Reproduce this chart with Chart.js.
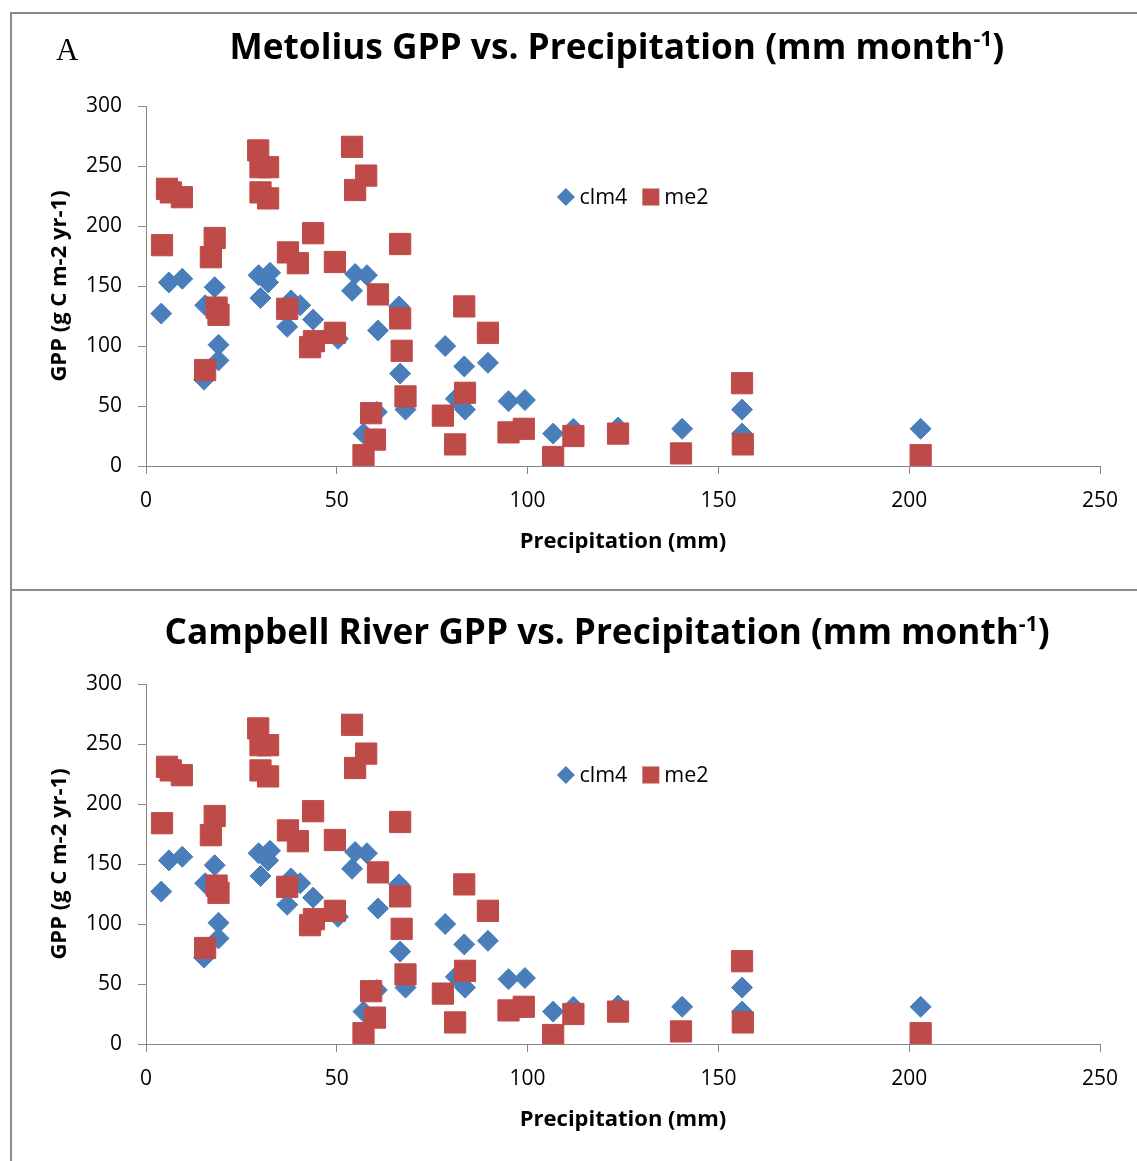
<!DOCTYPE html>
<html lang="en">
<head>
<meta charset="UTF-8">
<title>GPP vs. Precipitation</title>
<script src="https://cdn.jsdelivr.net/npm/chart.js"></script>
<style>
    body {
        margin: 0;
        background: #fff;
    }

    #page {
        position: relative;
        width: 1137px;
        height: 1161px;
        overflow: hidden;
        background: #fff;
    }

    .frame {
        position: absolute;
        left: 10px;
        width: 1200px;
        border-left: 2px solid #8c8c8c;
        border-top: 2px solid #8c8c8c;
    }

    canvas {
        position: absolute;
        left: 0;
    }

    .title {
        position: absolute;
        white-space: nowrap;
        font-family: "Open Sans", sans-serif;
        font-weight: bold;
        font-size: 36px;
        line-height: 1;
        color: #000;
        transform-origin: center center;
    }

    .title sup {
        font-size: 0.6em;
        vertical-align: 0.6em;
    }

    .letter {
        position: absolute;
        left: 56px;
        top: 34px;
        font-family: "Liberation Serif", serif;
        font-size: 31px;
        line-height: 1;
    }
</style>
</head>
<body>
<div id="page">
    <div class="frame" style="top:12px;height:578px;"></div>
    <div class="frame" style="top:589px;height:600px;"></div>

    <canvas id="metolius" width="1137" height="590" style="top:0;"></canvas>
    <canvas id="campbell" width="1137" height="571" style="top:590px;"></canvas>

    <div class="letter">A</div>
    <div class="title" id="title1" data-cx="617" data-cy="45" data-w="775">Metolius GPP vs. Precipitation (mm month<sup>-1</sup>)</div>
    <div class="title" id="title2" data-cx="607" data-cy="630" data-w="885">Campbell River GPP vs. Precipitation (mm month<sup>-1</sup>)</div>
</div>

<script>
    // values (both panels show the same points)
    const clm4Precip = [4, 6, 9.5, 15.2, 15.5, 18, 19, 19, 29.5, 32.5, 32, 30, 37, 38, 40.4, 43.8, 50.3,
        54.8, 57.9, 54, 60.8, 66.3, 66.6, 68, 60.5, 57, 78.4, 81.2, 83.4, 83.6, 89.6, 95, 99.3,
        106.7, 112, 123.7, 140.5, 156.2, 156.2, 203];
    const clm4Gpp = [127, 153, 156, 72, 134, 149, 101, 88, 159, 161, 153, 140, 116, 138, 134, 122, 106,
        160, 159, 146, 113, 133, 77, 47, 45, 27, 100, 56, 83, 47, 86, 54, 55,
        27, 31, 32, 31, 47, 27, 31];

    const me2Precip = [4.2, 5.5, 6.5, 9.4, 15.5, 17, 18, 18.5, 19, 29.4, 30, 32, 30, 32, 37.2, 37, 39.8,
        43.8, 43, 44, 49.5, 49.5, 54, 57.7, 54.8, 60.8, 66.6, 66.6, 67, 68, 59, 60, 57,
        77.8, 81, 83.4, 83.6, 89.6, 95, 99, 106.7, 112, 123.7, 140.2, 156.2, 156.4, 203];
    const me2Gpp = [184, 231, 228, 224, 80, 174, 190, 132, 126, 263, 249, 249, 228, 223, 178, 131, 169,
        194, 99, 104, 170, 111, 266, 242, 230, 143, 185, 123, 96, 58, 44, 22, 9,
        42, 18, 133, 61, 111, 28, 31, 7.5, 25, 27, 10.5, 69, 18, 9];

    const xTicks = { min: 0, max: 250, step: 50 };
    const yTicks = { min: 0, max: 300, step: 50 };

    const BLUE = '#4a7ebb';
    const RED = '#be4b48';
    const AXIS = '#868686';
    const FONT = 'Open Sans';

    function toPoints(xs, ys) {
        return xs.map((x, i) => ({ x: x, y: ys[i] }));
    }

    // Excel-style legend sitting inside the plot area
    const insideLegend = {
        id: 'insideLegend',
        afterDatasetsDraw(chart) {
            const { ctx, chartArea } = chart;
            const y = chartArea.top + 91;
            ctx.save();
            ctx.font = `21.5px "${FONT}"`;
            ctx.textBaseline = 'middle';
            ctx.textAlign = 'left';
            const mark = 17, gap = 5, itemGap = 15;
            const items = chart.data.datasets.map(ds => ({ ds, w: ctx.measureText(ds.label).width }));
            let total = items.reduce((s, it) => s + mark + gap + it.w, 0) + itemGap * (items.length - 1);
            let x = (chartArea.left + chartArea.right) / 2 + 10 - total / 2;
            items.forEach(({ ds, w }) => {
                const cx = x + mark / 2;
                ctx.fillStyle = ds.backgroundColor;
                ctx.beginPath();
                if (ds.pointStyle === 'rectRot') {
                    ctx.moveTo(cx, y - 9);
                    ctx.lineTo(cx + 9, y);
                    ctx.lineTo(cx, y + 9);
                    ctx.lineTo(cx - 9, y);
                    ctx.closePath();
                } else {
                    ctx.rect(cx - 8.5, y - 8.5, 17, 17);
                }
                ctx.fill();
                ctx.fillStyle = '#000';
                ctx.fillText(ds.label, x + mark + gap, y + 1);
                x += mark + gap + w + itemGap;
            });
            ctx.restore();
        }
    };

    function makeChart(canvasId, topPad, xAxisHeight, xTitlePad) {
        new Chart(document.getElementById(canvasId), {
            type: 'scatter',
            data: {
                datasets: [{
                    label: 'clm4',
                    data: toPoints(clm4Precip, clm4Gpp),
                    pointStyle: 'rectRot',
                    pointRadius: 10.5,
                    backgroundColor: BLUE,
                    borderColor: BLUE,
                    borderWidth: 1,
                    order: 2
                }, {
                    label: 'me2',
                    data: toPoints(me2Precip, me2Gpp),
                    pointStyle: 'rect',
                    pointRadius: 15,
                    backgroundColor: RED,
                    borderColor: RED,
                    borderWidth: 1,
                    order: 1
                }]
            },
            options: {
                responsive: false,
                animation: false,
                events: [],
                layout: { padding: { top: topPad, right: 37, left: 0, bottom: 0 } },
                plugins: {
                    tooltip: { enabled: false },
                    legend: { display: false }
                },
                scales: {
                    x: {
                        type: 'linear',
                        min: xTicks.min,
                        max: xTicks.max,
                        ticks: { stepSize: xTicks.step, padding: 14, color: '#000', font: { family: FONT, size: 21 } },
                        grid: { drawOnChartArea: false, tickLength: 8, color: AXIS },
                        border: { color: AXIS },
                        title: {
                            display: true,
                            text: 'Precipitation (mm)',
                            color: '#000',
                            font: { family: FONT, size: 22, weight: 'bold' },
                            padding: { top: 0, bottom: xTitlePad }
                        },
                        afterFit(scale) { scale.height = xAxisHeight; }
                    },
                    y: {
                        min: yTicks.min,
                        max: yTicks.max,
                        ticks: { stepSize: yTicks.step, padding: 16, color: '#000', font: { family: FONT, size: 21 } },
                        grid: { drawOnChartArea: false, tickLength: 8, color: AXIS },
                        border: { color: AXIS },
                        title: {
                            display: true,
                            text: 'GPP (g C m-2 yr-1)',
                            color: '#000',
                            font: { family: FONT, size: 22, weight: 'bold' },
                            padding: { top: 47, bottom: 0 }
                        },
                        afterFit(scale) { scale.width = 146; }
                    }
                }
            },
            plugins: [insideLegend]
        });
    }

    makeChart('metolius', 106, 124, 35);
    makeChart('campbell', 94, 117, 28);

    // squeeze the titles to the reference width and centre them
    document.querySelectorAll('.title').forEach(el => {
        const w = el.offsetWidth, h = el.offsetHeight;
        const k = Number(el.dataset.w) / w;
        el.style.left = (Number(el.dataset.cx) - w / 2) + 'px';
        el.style.top = (Number(el.dataset.cy) - h / 2) + 'px';
        el.style.transform = `scaleX(${k})`;
    });
</script>
</body>
</html>
